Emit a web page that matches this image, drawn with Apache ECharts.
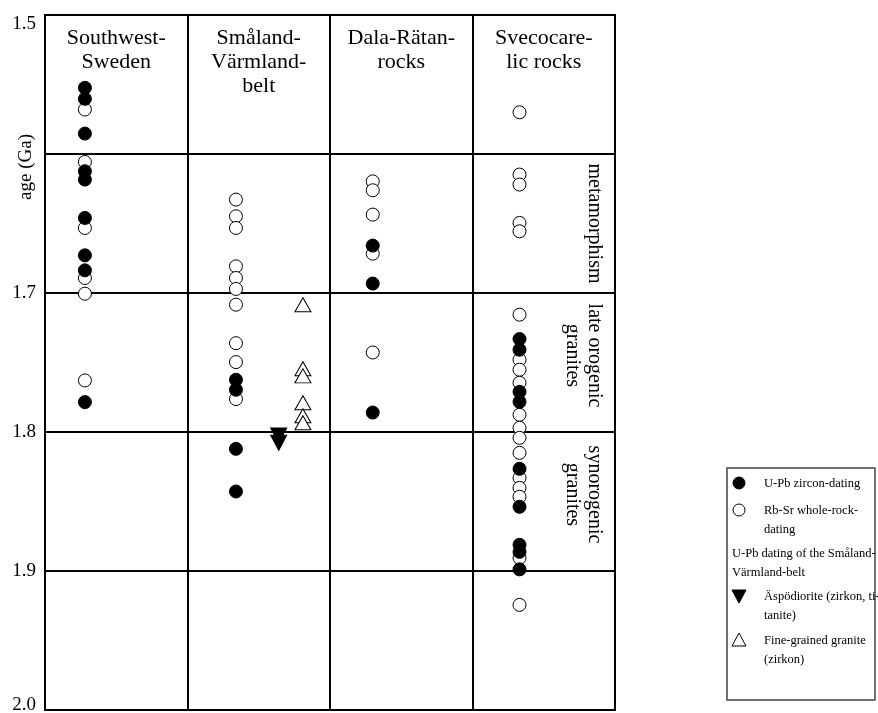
<!DOCTYPE html>
<html>
<head>
<meta charset="utf-8">
<script src="https://cdn.jsdelivr.net/npm/echarts@6/dist/echarts.min.js"></script>
<style>
  html, body { margin: 0; padding: 0; background: #fff; }
  #chart { width: 878px; height: 713px; }
</style>
</head>
<body>
<div id="chart"></div>
<script>
// Rock groups (columns of the diagram)
const columns = ['Southwest-\nSweden', 'Småland-\nVärmland-\nbelt', 'Dala-Rätan-\nrocks', 'Svecocare-\nlic rocks'];

// Y-axis tick labels (1.6 is left blank; the axis title sits there)
const tickLabels = ['1.5', '', '1.7', '1.8', '1.9', '2.0'];
const axisTitle = 'age (Ga)';

// Age ranges annotated on the right side of the diagram
const events = ['metamorphism', 'late orogenic\ngranites', 'synorogenic\ngranites'];

// U-Pb zircon ages (Ga), one list per column
const uPbSW = [1.5524, 1.5603, 1.5853, 1.6124, 1.6184, 1.6460, 1.6729, 1.6837, 1.7785];
const uPbSV = [1.7624, 1.7696, 1.8121, 1.8428];
const uPbDR = [1.6659, 1.6932, 1.7860];
const uPbSC = [1.7331, 1.7408, 1.7711, 1.7783, 1.8265, 1.8538, 1.8812, 1.8862, 1.8988];

// Rb-Sr whole-rock ages (Ga), one list per column
const rbSrSW = [1.5680, 1.6057, 1.6532, 1.6892, 1.7005, 1.7629];
const rbSrSV = [1.6328, 1.6448, 1.6532, 1.6808, 1.6892, 1.6971, 1.7084, 1.7361, 1.7497, 1.7763];
const rbSrDR = [1.6197, 1.6261, 1.6436, 1.6717, 1.7428];
const rbSrSC = [1.5700, 1.6148, 1.6220, 1.6496, 1.6556, 1.7156, 1.7480, 1.7552, 1.7646, 1.7876,
                1.7970, 1.8042, 1.8150, 1.8330, 1.8402, 1.8466, 1.8906, 1.9244];

// U-Pb ages of the Småland-Värmland-belt
const aspoDiorite = [1.8025, 1.8078];
const fineGrainedGranite = [1.7084, 1.7545, 1.7596, 1.7790, 1.7883, 1.7934];

// Legend texts
const legendNames = ['U-Pb zircon-dating', 'Rb-Sr whole-rock-\ndating', 'U-Pb dating of the Småland-\nVärmland-belt', 'Äspödiorite (zirkon, ti-\ntanite)', 'Fine-grained granite\n(zirkon)'];

const FONT = '"Liberation Serif", "Times New Roman", serif';

// horizontal position inside each column
const colX = [0.28, 1.34, 2.30, 3.33];
const aspoX = 1.64;
const granX = 1.81;

function pts(ages, x) { return ages.map(a => [x, a]); }

const uPbAll = [].concat(pts(uPbSW, colX[0]), pts(uPbSV, colX[1]), pts(uPbDR, colX[2]), pts(uPbSC, colX[3]));
const rbSrAll = [].concat(pts(rbSrSW, colX[0]), pts(rbSrSV, colX[1]), pts(rbSrDR, colX[2]), pts(rbSrSC, colX[3]));

const chart = echarts.init(document.getElementById('chart'), null, { renderer: 'canvas' });

const labelFont = { fontFamily: FONT, fontSize: 19, color: '#000' };

const option = {
  animation: false,
  backgroundColor: '#fff',
  grid: {
    left: 45, right: 263, top: 15, bottom: 3, outerBoundsMode: 'none', containLabel: false,
    show: true, borderColor: '#000', borderWidth: 2, backgroundColor: 'transparent'
  },
  xAxis: {
    type: 'value', min: 0, max: 4, interval: 1,
    axisLine: { show: false }, axisTick: { show: false }, axisLabel: { show: false },
    splitLine: { show: true, lineStyle: { color: '#000', width: 2 } }
  },
  yAxis: {
    type: 'value', min: 1.5, max: 2.0, interval: 0.1, inverse: true,
    axisLine: { show: false }, axisTick: { show: false },
    axisLabel: Object.assign({
      margin: 9,
      verticalAlignMinLabel: 'top',
      formatter: (v, i) => {
        const t = tickLabels[Math.round((v - 1.5) * 10)];
        return i === tickLabels.length - 1 ? '{last|' + t + '}' : t;
      },
      rich: { last: Object.assign({ padding: [0, 0, 9, 0] }, labelFont) }
    }, labelFont),
    splitLine: { show: true, lineStyle: { color: '#000', width: 2 } }
  },
  series: [
    {
      name: 'Rb-Sr', type: 'scatter', data: rbSrAll, symbol: 'circle', symbolSize: 13,
      itemStyle: { color: '#fff', borderColor: '#000', borderWidth: 1, opacity: 1 }, z: 3
    },
    {
      name: 'U-Pb', type: 'scatter', data: uPbAll, symbol: 'circle', symbolSize: 13,
      itemStyle: { color: '#000', borderColor: '#000', borderWidth: 1, opacity: 1 }, z: 4
    },
    {
      name: 'Äspödiorite', type: 'scatter', data: pts(aspoDiorite, aspoX), symbol: 'triangle',
      symbolRotate: 180, symbolSize: [16, 15],
      itemStyle: { color: '#000', borderColor: '#000', borderWidth: 1, opacity: 1 }, z: 4
    },
    {
      name: 'Fine-grained granite', type: 'scatter', data: pts(fineGrainedGranite, granX), symbol: 'triangle',
      symbolSize: [16, 14],
      itemStyle: { color: '#fff', borderColor: '#000', borderWidth: 1, opacity: 1 }, z: 4
    }
  ]
};
chart.setOption(option);

// Column headers, axis title, event labels and legend box
const graphics = [];
columns.forEach((c, i) => {
  const cx = chart.convertToPixel({ xAxisIndex: 0 }, i + 0.5);
  graphics.push({
    type: 'text', x: cx, y: 26, z: 10,
    style: { text: c, fontFamily: FONT, fontSize: 22, lineHeight: 24, fill: '#000', textAlign: 'center', textVerticalAlign: 'top' }
  });
});

graphics.push({
  type: 'text', x: 26, y: chart.convertToPixel({ yAxisIndex: 0 }, 1.6) + 13, rotation: Math.PI / 2, z: 10,
  style: { text: axisTitle, fontFamily: FONT, fontSize: 19, fill: '#000', textAlign: 'center', textVerticalAlign: 'middle' }
});

const bands = [[1.6, 1.7], [1.7, 1.8], [1.8, 1.9]];
const eventX = [594, 583, 583];
const eventShift = [0, -7, -7];
events.forEach((e, i) => {
  const cy = chart.convertToPixel({ yAxisIndex: 0 }, (bands[i][0] + bands[i][1]) / 2) + eventShift[i];
  graphics.push({
    type: 'text', x: eventX[i], y: cy, rotation: -Math.PI / 2, z: 10,
    style: { text: e, fontFamily: FONT, fontSize: 20, lineHeight: 22, fill: '#000', textAlign: 'center', textVerticalAlign: 'middle' }
  });
});

// Legend
const LX = 727, LY = 468, LW = 148, LH = 232;
const TX = 764;
const lf = { fontFamily: FONT, fontSize: 12.5, lineHeight: 19, fill: '#000', textVerticalAlign: 'top' };
graphics.push({ type: 'rect', shape: { x: LX, y: LY, width: LW, height: LH }, style: { fill: '#fff', stroke: '#444', lineWidth: 1.5 }, z: 5 });
graphics.push({ type: 'circle', shape: { cx: 739, cy: 483, r: 6 }, style: { fill: '#000', stroke: '#000', lineWidth: 1 }, z: 6 });
graphics.push({ type: 'text', x: TX, y: 474, style: Object.assign({ text: legendNames[0] }, lf), z: 6 });
graphics.push({ type: 'circle', shape: { cx: 739, cy: 510, r: 6 }, style: { fill: '#fff', stroke: '#000', lineWidth: 1 }, z: 6 });
graphics.push({ type: 'text', x: TX, y: 501, style: Object.assign({ text: legendNames[1] }, lf), z: 6 });
graphics.push({ type: 'text', x: 732, y: 544, style: Object.assign({ text: legendNames[2] }, lf), z: 6 });
graphics.push({ type: 'polygon', shape: { points: [[732, 590], [746, 590], [739, 603]] }, style: { fill: '#000', stroke: '#000', lineWidth: 1 }, z: 6 });
graphics.push({ type: 'text', x: TX, y: 587, style: Object.assign({ text: legendNames[3] }, lf), z: 6 });
graphics.push({ type: 'polygon', shape: { points: [[739, 633], [746, 646], [732, 646]] }, style: { fill: '#fff', stroke: '#000', lineWidth: 1 }, z: 6 });
graphics.push({ type: 'text', x: TX, y: 631, style: Object.assign({ text: legendNames[4] }, lf), z: 6 });

chart.setOption({ graphic: graphics });
</script>
</body>
</html>
